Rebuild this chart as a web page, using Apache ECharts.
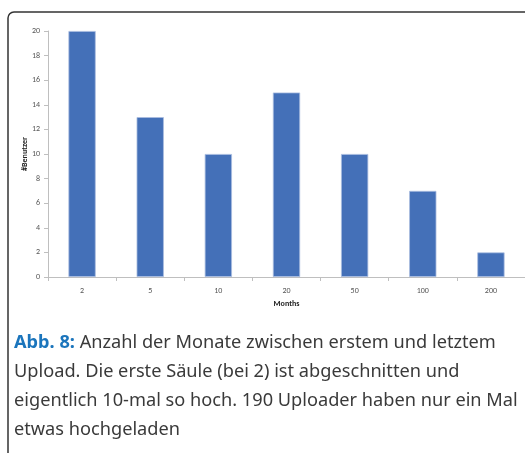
<!DOCTYPE html>
<html>
<head>
<meta charset="utf-8">
<script src="https://cdn.jsdelivr.net/npm/echarts@6/dist/echarts.min.js"></script>
<style>
html,body{margin:0;padding:0;background:#fff;}
#c{width:525px;height:453px;}
</style>
</head>
<body>
<div id="c"></div>
<script>
var categories = ['2', '5', '10', '20', '50', '100', '200'];
var users = [20, 13, 10, 15, 10, 7, 2];
var yTicks = [0, 2, 4, 6, 8, 10, 12, 14, 16, 18, 20];
var captionLabel = 'Abb. 8:';
var captionLines = [
  ' Anzahl der Monate zwischen erstem und letztem',
  'Upload. Die erste Säule (bei 2) ist abgeschnitten und',
  'eigentlich 10-mal so hoch. 190 Uploader haben nur ein Mal',
  'etwas hochgeladen'
];

var chart = echarts.init(document.getElementById('c'), null, {renderer: 'canvas'});
var font = 'Calibri, Carlito, "Liberation Sans", Arial, sans-serif';
var capFont = '"Noto Sans", "Open Sans", sans-serif';

var graphics = [
  {
    type: 'rect',
    shape: { x: 8, y: 12, width: 700, height: 600, r: 6 },
    style: { stroke: '#333', lineWidth: 1.5, fill: 'rgba(0,0,0,0)' },
    silent: true,
    z: -1
  }
];
captionLines.forEach(function (line, i) {
  graphics.push({
    type: 'text',
    x: 14,
    y: 334 + i * 29,
    style: {
      text: i === 0 ? '{b|' + captionLabel + '}{n|' + line + '}' : '{n|' + line + '}',
      rich: {
        b: { fontFamily: capFont, fontSize: 18.2, fontWeight: 'bold', fill: '#1b75bc' },
        n: { fontFamily: capFont, fontSize: 18.2, fill: '#3a3a3a' }
      }
    }
  });
});

chart.setOption({
  animation: false,
  backgroundColor: '#fff',
  grid: { left: 48, right: 0, top: 31, bottom: 176, containLabel: false },
  xAxis: {
    type: 'category',
    data: categories,
    name: 'Months',
    nameLocation: 'middle',
    nameGap: 23,
    nameMoveOverlap: false,
    nameTextStyle: { fontFamily: font, fontSize: 8, fontWeight: 'bold', color: '#222' },
    axisLine: { show: true, lineStyle: { color: '#bfbfbf', width: 1 } },
    axisTick: { show: true, alignWithLabel: false, length: 4, lineStyle: { color: '#bfbfbf' } },
    axisLabel: { fontFamily: font, fontSize: 8, color: '#555', margin: 10 },
    splitLine: { show: false }
  },
  yAxis: {
    type: 'value',
    min: 0,
    max: yTicks[yTicks.length - 1],
    interval: yTicks[1] - yTicks[0],
    name: '#Benutzer',
    nameLocation: 'middle',
    nameGap: 19,
    nameMoveOverlap: false,
    nameRotate: 90,
    nameTextStyle: { fontFamily: font, fontSize: 8, fontWeight: 'bold', color: '#222' },
    axisLine: { show: true, lineStyle: { color: '#bfbfbf', width: 1 } },
    axisTick: { show: true, length: 4, lineStyle: { color: '#bfbfbf' } },
    axisLabel: { fontFamily: font, fontSize: 8, color: '#555', margin: 8 },
    splitLine: { show: false }
  },
  series: [{
    type: 'bar',
    data: users,
    barWidth: '40%',
    itemStyle: { color: '#4470b8', borderColor: '#a9bde0', borderWidth: 0.8 }
  }],
  graphic: graphics
});
</script>
</body>
</html>
